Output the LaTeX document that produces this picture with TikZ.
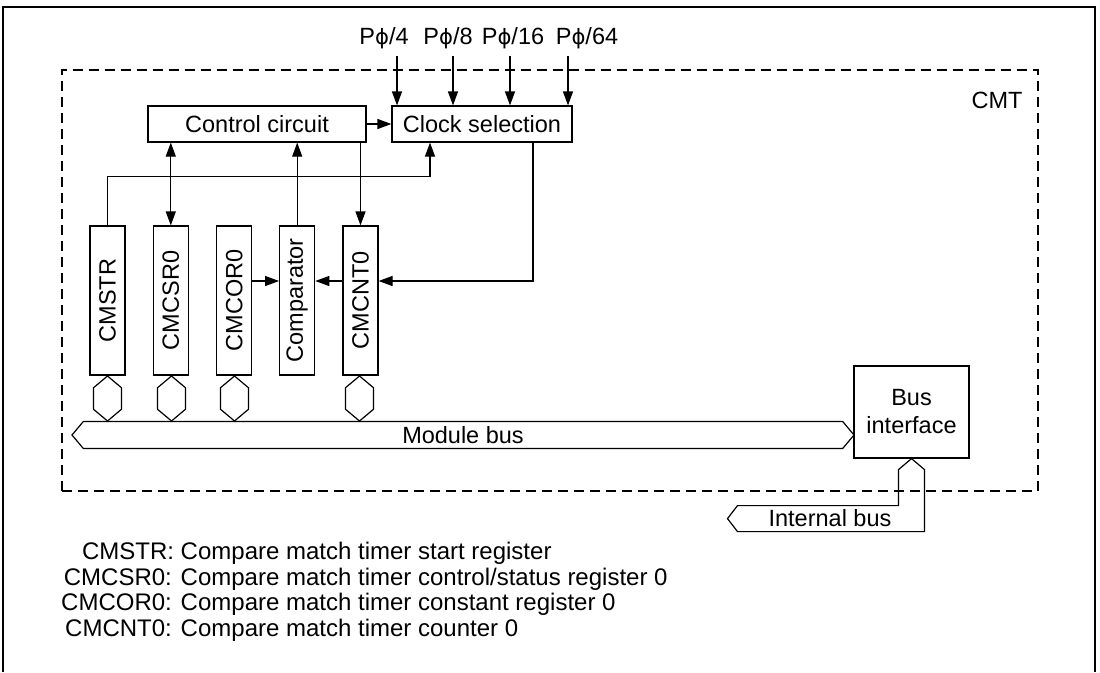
\documentclass[tikz,border=0pt]{standalone}
\usepackage{fontspec}
\setmainfont{Liberation Sans}
\newfontfamily\greekfont{DejaVu Sans}[Scale=0.9]
\newcommand\pphi{{\greekfont ϕ}}
\usetikzlibrary{positioning,arrows.meta,shapes.arrows}

\begin{document}
\begin{tikzpicture}[
    x=1pt, y=-1pt,
    font=\fontsize{23.5}{28}\selectfont,
    block/.style={draw, line width=1.2pt, minimum width=#1, minimum height=36pt, inner sep=0pt},
    reg/.style={draw, line width=1.2pt, rotate=90, minimum width=149pt, minimum height=35pt, inner sep=0pt},
    bus/.style={draw, line width=1.2pt, double arrow, double arrow head extend=0pt, double arrow tip angle=100, inner sep=0pt},
    hex/.style={bus, rotate=90, minimum height=45pt, minimum width=28pt},
    arr/.style={-{Triangle[length=14pt,width=10pt]}, line width=1.2pt},
    biarr/.style={{Triangle[length=14pt,width=10pt]}-{Triangle[length=14pt,width=10pt]}, line width=1.2pt},
    cmtbox/.style={draw, line width=1.2pt, dash pattern=on 10pt off 6pt},
]
\useasboundingbox (0,0) rectangle (1100,672);
\draw[line width=2.5pt] (3,672) -- (3,7) -- (1095,7) -- (1095,672);

% ===== CMT MODULE =====
\node[cmtbox, minimum width=976pt, minimum height=421pt] (cmt) at (550,280.5) {};
\node (cmtlbl) at (997,100) {CMT};

\node[block=218pt] (ctrl) at (257,124) {Control circuit};
\node[block=180pt] (clk) at (482,124) {Clock selection};

\node (p4) at (384,38) {P\pphi/4};
\node (p8) at (448,38) {P\pphi/8};
\node (p16) at (513,38) {P\pphi/16};
\node (p64) at (587,38) {P\pphi/64};
\coordinate (in4) at (397,56);
\coordinate (in8) at (453,56);
\coordinate (in16) at (510,56);
\coordinate (in64) at (568,56);

\node[reg] (str) at (107.5,300.5) {CMSTR};
\node[reg] (csr) at (170.8,300.5) {CMCSR0};
\node[reg] (cor) at (234.2,300.5) {CMCOR0};
\node[reg] (cmp) at (297.2,300.5) {Comparator};
\node[reg] (cnt) at (360.5,300.5) {CMCNT0};
\coordinate (cmpin) at (0,281);

\node[hex] (hstr) at (107.5,398.5) {};
\node[hex] (hcsr) at (171.5,398.5) {};
\node[hex] (hcor) at (234.5,398.5) {};
\node[hex] (hcnt) at (359.5,398.5) {};

\node[bus, minimum height=782pt, minimum width=27pt] (modbus) at (463,435) {Module bus};
\node[draw, line width=1.2pt, minimum width=115pt, minimum height=92pt, align=center, inner sep=0pt] (bif) at (911.5,412) {Bus\\interface};

% internal bus
\draw[line width=1.2pt] (bif.south) -- ++(13,11) -- ++(0,62) -- ++(-187,0) -- ++(-10,-13) -- ++(10,-13) -- ++(161,0) -- ++(0,-36) -- cycle;
\node (ibus) at (830,518) {Internal bus};

% ===== ARROWS =====
\draw[arr] (in4) -- (in4 |- clk.north);
\draw[arr] (in8) -- (in8 |- clk.north);
\draw[arr] (in16) -- (in16 |- clk.north);
\draw[arr] (in64) -- (in64 |- clk.north);
\draw[arr] (ctrl.east) -- (clk.west);
\draw[arr] (str.east) -- ++(0,-49) -| ([xshift=-52pt]clk.south);
\draw[biarr] (ctrl.south -| csr) -- (csr.east);
\draw[arr] (cmp.east) -- (cmp.east |- ctrl.south);
\draw[arr] (cnt.east |- ctrl.south) -- (cnt.east);
\draw[arr] ([xshift=51pt]clk.south) |- (cnt.south |- cmpin);
\draw[arr] (cor.south |- cmpin) -- (cmp.north |- cmpin);
\draw[arr] (cnt.north |- cmpin) -- (cmp.south |- cmpin);

% legend
\node[anchor=west, inner sep=0pt, font=\fontsize{24}{25.5}\selectfont] (legend) at (61,593) {%
\begin{tabular}{@{}r@{ }l@{}}
CMSTR: & Compare match timer start register\\
CMCSR0: & Compare match timer control/status register 0\\
CMCOR0: & Compare match timer constant register 0\\
CMCNT0: & Compare match timer counter 0
\end{tabular}};

\end{tikzpicture}
\end{document}
